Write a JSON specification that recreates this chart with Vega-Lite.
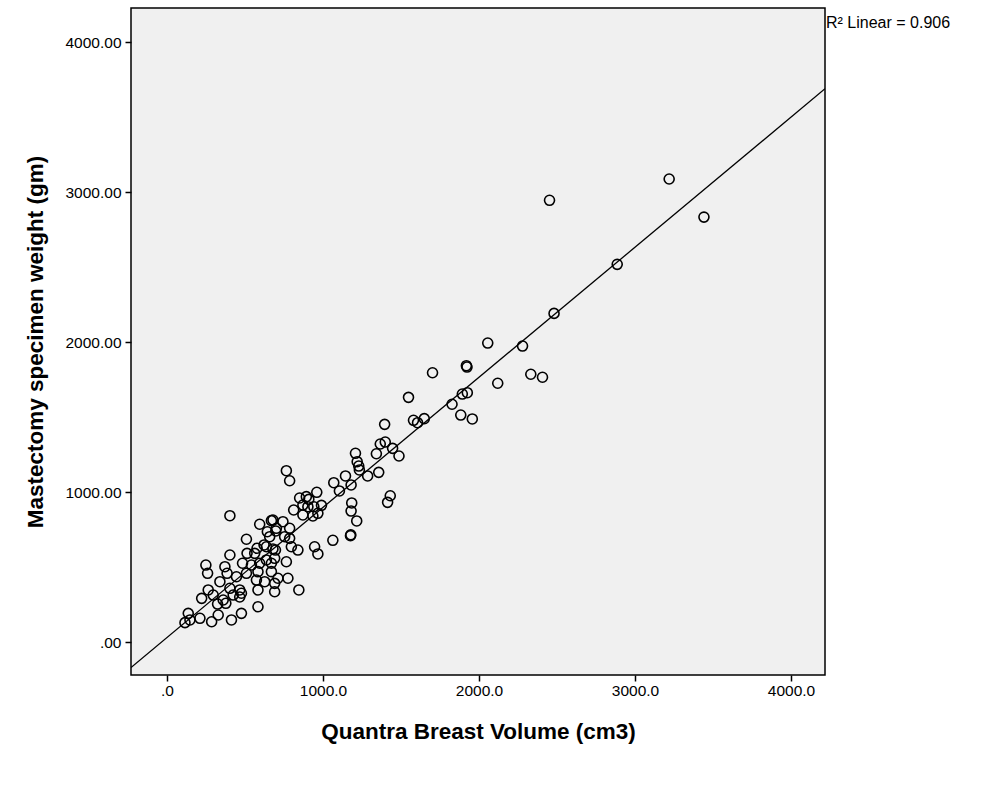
{
  "$schema": "https://vega.github.io/schema/vega-lite/v6.json",
  "width": 694,
  "height": 667,
  "autosize": "none",
  "padding": {"left": 131, "top": 8, "right": 161, "bottom": 123},
  "background": "white",
  "config": {
    "view": {"fill": "#f0f0f0", "stroke": "#000000", "strokeWidth": 1.5},
    "font": "Liberation Sans",
    "axis": {
      "domain": false,
      "grid": false,
      "tickColor": "#000000",
      "tickSize": 6,
      "tickWidth": 1.5,
      "labelColor": "#000000",
      "labelFont": "Liberation Sans",
      "labelFontSize": 15.5,
      "titleColor": "#000000",
      "titleFont": "Liberation Sans",
      "titleFontSize": 22.5,
      "titleFontWeight": "bold"
    }
  },
  "data": {
    "values": [
      {"v": 2452, "w": 2945}, {"v": 3219, "w": 3087}, {"v": 3442, "w": 2833}, {"v": 2886, "w": 2518},
      {"v": 2481, "w": 2191}, {"v": 2279, "w": 1973}, {"v": 2056, "w": 1993}, {"v": 1919, "w": 1842},
      {"v": 1923, "w": 1833}, {"v": 1702, "w": 1795}, {"v": 2120, "w": 1725}, {"v": 2332, "w": 1785},
      {"v": 2407, "w": 1765}, {"v": 1548, "w": 1631}, {"v": 1893, "w": 1653}, {"v": 1925, "w": 1662},
      {"v": 1827, "w": 1585}, {"v": 1883, "w": 1513}, {"v": 1957, "w": 1487}, {"v": 1395, "w": 1451},
      {"v": 1580, "w": 1478}, {"v": 1606, "w": 1462}, {"v": 1649, "w": 1489}, {"v": 1367, "w": 1320},
      {"v": 1399, "w": 1333}, {"v": 1342, "w": 1255}, {"v": 1446, "w": 1291}, {"v": 1487, "w": 1240},
      {"v": 1208, "w": 1258}, {"v": 1219, "w": 1202}, {"v": 1229, "w": 1173}, {"v": 1233, "w": 1147},
      {"v": 1286, "w": 1107}, {"v": 1357, "w": 1131}, {"v": 1144, "w": 1107}, {"v": 1069, "w": 1062},
      {"v": 1105, "w": 1007}, {"v": 1180, "w": 1047}, {"v": 960, "w": 998}, {"v": 893, "w": 969},
      {"v": 990, "w": 911}, {"v": 967, "w": 858}, {"v": 1431, "w": 975}, {"v": 1414, "w": 931},
      {"v": 1184, "w": 927}, {"v": 1180, "w": 873}, {"v": 1216, "w": 807}, {"v": 1176, "w": 709},
      {"v": 1178, "w": 715}, {"v": 1063, "w": 678}, {"v": 946, "w": 635}, {"v": 967, "w": 587},
      {"v": 765, "w": 1142}, {"v": 786, "w": 1075}, {"v": 403, "w": 842}, {"v": 850, "w": 960},
      {"v": 909, "w": 951}, {"v": 871, "w": 913}, {"v": 903, "w": 902}, {"v": 812, "w": 880},
      {"v": 871, "w": 847}, {"v": 935, "w": 840}, {"v": 941, "w": 902}, {"v": 679, "w": 813},
      {"v": 743, "w": 802}, {"v": 701, "w": 758}, {"v": 786, "w": 758}, {"v": 594, "w": 785},
      {"v": 669, "w": 809}, {"v": 509, "w": 685}, {"v": 622, "w": 647}, {"v": 695, "w": 613},
      {"v": 786, "w": 691}, {"v": 679, "w": 620}, {"v": 797, "w": 635}, {"v": 839, "w": 613},
      {"v": 690, "w": 558}, {"v": 765, "w": 535}, {"v": 669, "w": 525}, {"v": 669, "w": 469},
      {"v": 711, "w": 425}, {"v": 775, "w": 425}, {"v": 690, "w": 391}, {"v": 690, "w": 335},
      {"v": 845, "w": 347}, {"v": 403, "w": 580}, {"v": 513, "w": 591}, {"v": 577, "w": 625},
      {"v": 637, "w": 635}, {"v": 249, "w": 513}, {"v": 260, "w": 458}, {"v": 371, "w": 502},
      {"v": 385, "w": 458}, {"v": 484, "w": 525}, {"v": 541, "w": 513}, {"v": 594, "w": 525},
      {"v": 637, "w": 547}, {"v": 509, "w": 458}, {"v": 583, "w": 469}, {"v": 445, "w": 435},
      {"v": 339, "w": 402}, {"v": 573, "w": 413}, {"v": 626, "w": 402}, {"v": 264, "w": 347},
      {"v": 403, "w": 358}, {"v": 466, "w": 347}, {"v": 583, "w": 347}, {"v": 222, "w": 291},
      {"v": 296, "w": 313}, {"v": 360, "w": 280}, {"v": 424, "w": 313}, {"v": 477, "w": 325},
      {"v": 583, "w": 235}, {"v": 136, "w": 191}, {"v": 115, "w": 129}, {"v": 211, "w": 158},
      {"v": 286, "w": 135}, {"v": 328, "w": 180}, {"v": 413, "w": 147}, {"v": 477, "w": 191},
      {"v": 324, "w": 253}, {"v": 377, "w": 258}, {"v": 466, "w": 300}, {"v": 147, "w": 147},
      {"v": 643, "w": 735}, {"v": 697, "w": 740}, {"v": 562, "w": 591}, {"v": 754, "w": 702},
      {"v": 658, "w": 702}
    ]
  },
  "layer": [
    {
      "transform": [{"regression": "w", "on": "v", "extent": [-231, 4218]}],
      "mark": {"type": "line", "color": "#000000", "strokeWidth": 1.3, "clip": true},
      "encoding": {
        "x": {"field": "v", "type": "quantitative"},
        "y": {"field": "w", "type": "quantitative"}
      }
    },
    {
      "mark": {"type": "point", "shape": "circle", "filled": false, "color": "#000000", "strokeWidth": 1.6, "size": 100, "opacity": 1},
      "encoding": {
        "x": {
          "field": "v", "type": "quantitative",
          "scale": {"domain": [-231, 4218], "nice": false, "zero": false},
          "axis": {
            "values": [0, 1000, 2000, 3000, 4000],
            "labelExpr": "datum.value == 0 ? '.0' : format(datum.value, '.1f')",
            "labelPadding": 2,
            "title": "Quantra Breast Volume (cm3)",
            "titlePadding": 22
          }
        },
        "y": {
          "field": "w", "type": "quantitative",
          "scale": {"domain": [-220, 4227], "nice": false, "zero": false},
          "axis": {
            "values": [0, 1000, 2000, 3000, 4000],
            "labelExpr": "datum.value == 0 ? '.00' : format(datum.value, '.2f')",
            "labelPadding": 4,
            "title": "Mastectomy specimen weight (gm)",
            "titlePadding": 17
          }
        }
      }
    },
    {
      "data": {"values": [{"label": "R² Linear = 0.906"}]},
      "mark": {"type": "text", "align": "left", "baseline": "middle", "dx": 1, "fontSize": 16, "font": "Liberation Sans", "color": "#000000", "clip": false},
      "encoding": {
        "x": {"datum": 4218},
        "y": {"datum": 4130},
        "text": {"field": "label", "type": "nominal"}
      }
    }
  ]
}
